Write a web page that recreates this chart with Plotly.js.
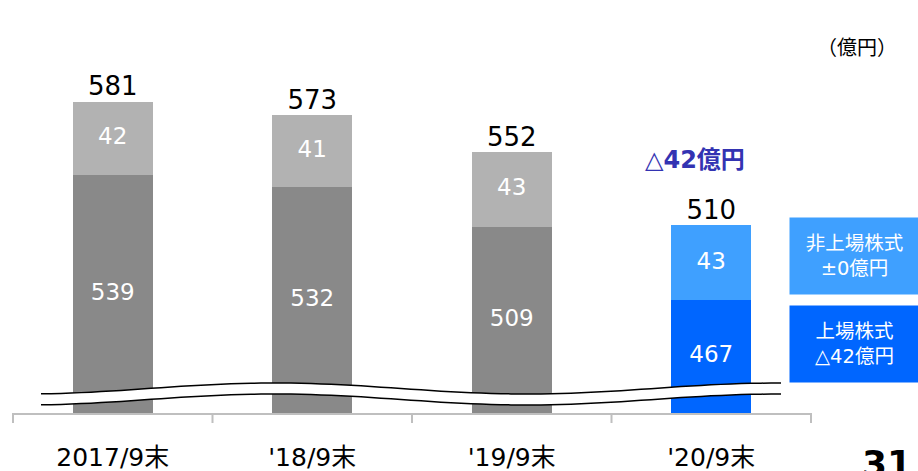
<!DOCTYPE html>
<html>
<head>
<meta charset="utf-8">
<script src="https://cdn.plot.ly/plotly-3.0.1.min.js"></script>
<style>html,body{margin:0;padding:0;background:#fff;}#chart{width:918px;height:471px;}</style>
</head>
<body>
<div id="chart"></div>
<script>
// ---- data ----
const categories = ['2017/9末', "'18/9末", "'19/9末", "'20/9末"];
const listedValues = [539, 532, 509, 467];      // 上場株式
const unlistedValues = [42, 41, 43, 43];        // 非上場株式
const totalValues = [581, 573, 552, 510];
const unitLabel = '（億円）';
const changeLabel = '△42億円';
const unlistedNote = '非上場株式<br>±0億円';
const listedNote = '上場株式<br>△42億円';
const pageNumber = '31';

// ---- styling / layout ----
const FONT = 'DejaVu Sans, Noto Sans CJK JP, sans-serif';
const CJK = 'Noto Sans CJK JP, DejaVu Sans, sans-serif';
const AXIS_MIN = 402.5;
const PX_PER_UNIT = 1.745;
const M = {l: 13, r: 107, t: 10, b: 58};
const W = 918, H = 471;
const plotW = W - M.l - M.r, plotH = H - M.t - M.b;
const AXIS_MAX = AXIS_MIN + plotH / PX_PER_UNIT;

const listedColors = ['#898989', '#898989', '#898989', '#0066ff'];
const unlistedColors = ['#b2b2b2', '#b2b2b2', '#b2b2b2', '#3fa0ff'];

const xIdx = categories.map((c, i) => i);

const traces = [
  {type: 'bar', x: xIdx, y: listedValues, marker: {color: listedColors, line: {width: 0}}, hoverinfo: 'skip'},
  {type: 'bar', x: xIdx, y: unlistedValues, marker: {color: unlistedColors, line: {width: 0}}, hoverinfo: 'skip'},
  {type: 'scatter', mode: 'text', x: xIdx, y: listedValues.map(v => (v + AXIS_MIN) / 2),
   text: listedValues.map(String), textposition: 'middle center',
   textfont: {family: FONT, size: 23, color: '#ffffff'}, hoverinfo: 'skip'},
  {type: 'scatter', mode: 'text', x: xIdx, y: listedValues.map((v, i) => v + unlistedValues[i] / 2),
   text: unlistedValues.map(String), textposition: 'middle center',
   textfont: {family: FONT, size: 23, color: '#ffffff'}, hoverinfo: 'skip'},
  {type: 'scatter', mode: 'text', x: xIdx, y: totalValues,
   text: totalValues.map(String), textposition: 'top center',
   textfont: {family: FONT, size: 26, color: '#000000'}, hoverinfo: 'skip'}
];

// decorative axis-break wave (pixel space -> paper space)
function px2paperX(px) { return (px - M.l) / plotW; }
function px2paperY(py) { return (M.t + plotH - py) / plotH; }
function waveY(px, off) { return 388.5 + off + 5.5 * Math.cos(2 * Math.PI * (px - 527) / 504); }
const wx = [];
for (let p = 41; p <= 781; p += 10) wx.push(p);
function linePath(off) {
  return wx.map((p, i) => (i ? 'L' : 'M') + px2paperX(p).toFixed(5) + ',' + px2paperY(waveY(p, off)).toFixed(5)).join(' ');
}
const upperPts = wx.map(p => px2paperX(p).toFixed(5) + ',' + px2paperY(waveY(p, 0)).toFixed(5));
const lowerPts = wx.slice().reverse().map(p => px2paperX(p).toFixed(5) + ',' + px2paperY(waveY(p, 11)).toFixed(5));
const fillPath = 'M' + upperPts.join(' L') + ' L' + lowerPts.join(' L') + ' Z';

const shapes = [
  {type: 'path', xref: 'paper', yref: 'paper', path: fillPath, fillcolor: '#ffffff', line: {width: 0}, layer: 'above'},
  {type: 'path', xref: 'paper', yref: 'paper', path: linePath(0), line: {color: '#000000', width: 1.5}, layer: 'above'},
  {type: 'path', xref: 'paper', yref: 'paper', path: linePath(11), line: {color: '#000000', width: 1.5}, layer: 'above'}
];

const annotations = [
  {xref: 'paper', yref: 'paper', x: px2paperX(857), y: px2paperY(47), text: unitLabel, showarrow: false,
   xanchor: 'center', yanchor: 'middle', font: {family: CJK, size: 20, color: '#000000'}},
  {xref: 'x', yref: 'paper', x: 2.92, y: px2paperY(160), text: '<b>' + changeLabel + '</b>', showarrow: false,
   xanchor: 'center', yanchor: 'middle', font: {family: FONT, size: 24, color: '#3333b2'}},
  {xref: 'paper', yref: 'paper', x: px2paperX(789), y: px2paperY(256), text: unlistedNote, showarrow: false,
   xanchor: 'left', yanchor: 'middle', width: 129, height: 76, bgcolor: '#3fa0ff', borderpad: 0,
   font: {family: FONT, size: 19.5, color: '#ffffff'}},
  {xref: 'paper', yref: 'paper', x: px2paperX(789), y: px2paperY(344), text: listedNote, showarrow: false,
   xanchor: 'left', yanchor: 'middle', width: 129, height: 76, bgcolor: '#0066ff', borderpad: 0,
   font: {family: FONT, size: 19.5, color: '#ffffff'}},
  {xref: 'paper', yref: 'paper', x: px2paperX(860), y: px2paperY(441), text: '<b>' + pageNumber + '</b>', showarrow: false,
   xanchor: 'left', yanchor: 'top', font: {family: FONT, size: 36, color: '#000000'}}
];

const layout = {
  width: W, height: H,
  margin: M,
  paper_bgcolor: '#ffffff', plot_bgcolor: '#ffffff',
  showlegend: false,
  barmode: 'stack',
  bargap: 0.6,
  xaxis: {
    type: 'linear', range: [-0.5, 3.5], tickmode: 'array', tickvals: xIdx, ticktext: categories,
    showline: true, linecolor: '#bfbfbf', linewidth: 2,
    ticks: '', showgrid: false, zeroline: false,
    tickfont: {family: FONT, size: 25, color: '#000000'},
    ticklabelstandoff: 21
  },
  yaxis: {range: [AXIS_MIN, AXIS_MAX], visible: false, showgrid: false, zeroline: false, fixedrange: true},
  shapes: shapes.concat([0, 1, 2, 3, 4].map(i => ({
    type: 'line', xref: 'paper', yref: 'paper', x0: i / 4, x1: i / 4, y0: 0, y1: -10 / plotH,
    line: {color: '#bfbfbf', width: 2}, layer: 'below'
  }))),
  annotations: annotations
};

Plotly.newPlot('chart', traces, layout, {displayModeBar: false, staticPlot: true});
</script>
</body>
</html>
